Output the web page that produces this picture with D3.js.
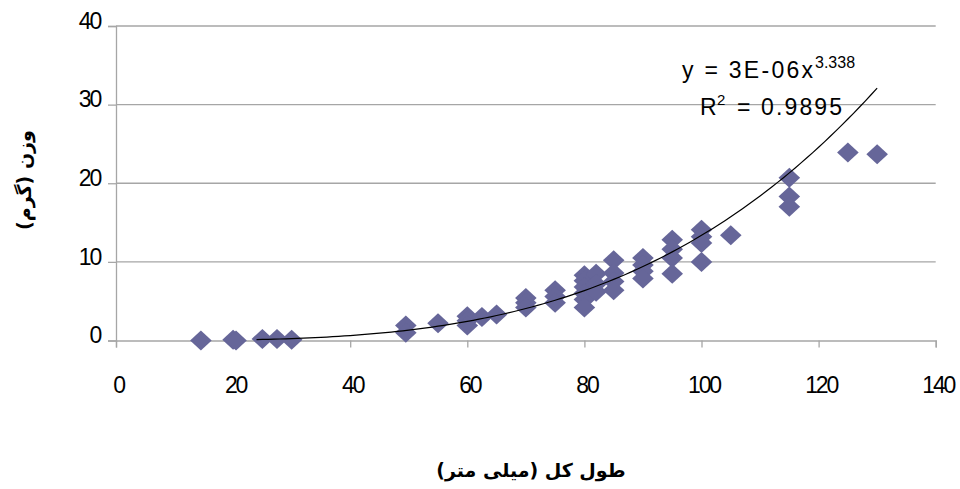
<!DOCTYPE html>
<html>
<head>
<meta charset="utf-8">
<title>fish length weight</title>
<script src="https://d3js.org/d3.v7.min.js"></script>
<style>
body { margin: 0; background: #fff; }
svg { font-family: 'Liberation Sans', Arial, sans-serif; }
</style>
</head>
<body>
<svg id="chart" width="960" height="489"></svg>
<script>
// total length (mm) and weight (g)
var lengths = [14.5, 20, 20.5, 25, 27.5, 30,
  49.5, 49.5, 55, 60, 60, 60, 62.5, 65,
  70, 70, 70, 75, 75, 75,
  80, 80, 80, 80, 80, 80, 82, 82, 82,
  85, 85, 85, 85, 90, 90, 90, 90,
  95, 95, 95, 95, 100, 100, 100, 100, 105,
  115, 115, 115, 125, 130];
var weights = [0, 0.1, 0, 0.2, 0.2, 0.1,
  1.9, 1.0, 2.2, 3.1, 2.5, 1.9, 3.0, 3.3,
  5.4, 4.8, 4.2, 6.4, 5.6, 4.8,
  8.3, 7.6, 6.8, 6.0, 5.2, 4.2, 8.5, 7.2, 6.2,
  10.2, 8.6, 7.5, 6.4, 10.5, 9.6, 8.8, 7.9,
  12.8, 11.6, 10.5, 8.5, 14.1, 13.2, 12.4, 10.0, 13.4,
  20.7, 18.3, 17.0, 23.9, 23.7];
var xTicks = [0, 20, 40, 60, 80, 100, 120, 140];
var yTicks = [0, 10, 20, 30, 40];
// power trendline y = a * x^b (coefficient as drawn)
var trendA = 2.82e-6, trendB = 3.338;
var trendFrom = 24, trendTo = 130;

var svg = d3.select("#chart");
var x = d3.scaleLinear().domain([0, 140]).range([116, 935.7]);
var y = d3.scaleLinear().domain([0, 40]).range([340.5, 26]);
var gray = "#a6a6a6";

// gridlines
svg.append("g").selectAll("line")
  .data(yTicks.filter(function (d) { return d > 0; }))
  .join("line")
  .attr("x1", x(0)).attr("x2", x(140))
  .attr("y1", function (d) { return y(d); })
  .attr("y2", function (d) { return y(d); })
  .style("stroke", gray).style("stroke-width", 1.3);

// axes
var xAxis = d3.axisBottom(x).tickValues(xTicks).tickSize(7).tickFormat(d3.format("d"));
var yAxis = d3.axisLeft(y).tickValues(yTicks).tickSize(8).tickFormat(d3.format("d"));
var gx = svg.append("g").attr("transform", "translate(0," + y(0) + ")").call(xAxis);
var gy = svg.append("g").attr("transform", "translate(" + x(0) + ",0)").call(yAxis);
[gx, gy].forEach(function (g) {
  g.select(".domain").style("stroke", gray).style("stroke-width", 1.3);
  g.selectAll(".tick line").style("stroke", gray).style("stroke-width", 1.3);
  g.selectAll("text")
    .style("font-family", "'Liberation Sans', Arial, sans-serif")
    .style("font-size", "23px").style("letter-spacing", "-2.2px")
    .style("fill", "#000");
});
gx.selectAll("text").attr("y", 36).attr("dy", "0.71em").attr("dx", 2);
gy.selectAll("text").attr("x", -16).attr("dy", "0.1em");

// points
var pts = lengths.map(function (d, i) { return [d, weights[i]]; });
svg.append("g").selectAll("path")
  .data(pts)
  .join("path")
  .attr("d", "M0,-10L10.8,0L0,10L-10.8,0Z")
  .attr("transform", function (d) { return "translate(" + x(d[0]) + "," + y(d[1]) + ")"; })
  .style("fill", "#666699");

// trendline
var trend = d3.range(trendFrom, trendTo + 0.5, 1).map(function (v) { return [v, trendA * Math.pow(v, trendB)]; });
svg.append("path")
  .datum(trend)
  .attr("d", d3.line().x(function (d) { return x(d[0]); }).y(function (d) { return y(d[1]); }))
  .style("fill", "none").style("stroke", "#000").style("stroke-width", 1.2);

// equation label
var eq = svg.append("text").attr("x", 682).attr("y", 78)
  .style("font-size", "23px").style("fill", "#000");
eq.append("tspan").text("y = 3E-06x").attr("textLength", 131).attr("lengthAdjust", "spacing");
eq.append("tspan").text("3.338").attr("x", 815).attr("y", 68).style("font-size", "16px");

var r2 = svg.append("text").attr("x", 700).attr("y", 115)
  .style("font-size", "23px").style("fill", "#000");
r2.append("tspan").text("R");
r2.append("tspan").text("2").attr("x", 717).attr("y", 105).style("font-size", "15px");
r2.append("tspan").text("= 0.9895").attr("x", 737).attr("y", 115)
  .attr("textLength", 105).attr("lengthAdjust", "spacing");

// axis titles
svg.append("text")
  .attr("x", 531).attr("y", 477)
  .attr("text-anchor", "middle")
  .attr("direction", "rtl")
  .style("font-family", "'DejaVu Sans', 'Noto Sans', sans-serif")
  .style("font-weight", "bold").style("font-size", "19px")
  .text("طول كل (ميلى متر)");

svg.append("text")
  .attr("transform", "translate(31,180) rotate(-90)")
  .attr("text-anchor", "middle")
  .attr("direction", "rtl")
  .style("font-family", "'DejaVu Sans', 'Noto Sans', sans-serif")
  .style("font-weight", "bold").style("font-size", "19px")
  .text("وزن (گرم)");
</script>
</body>
</html>
